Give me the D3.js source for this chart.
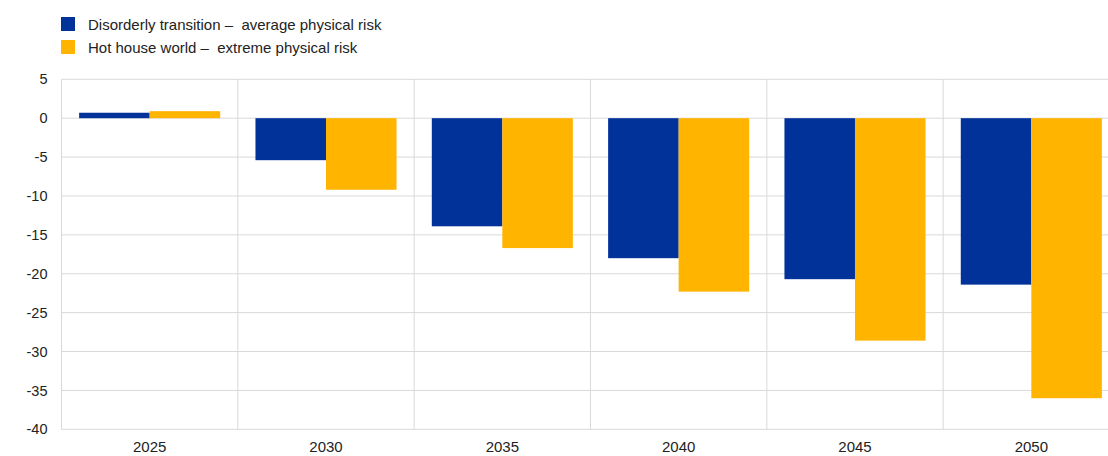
<!DOCTYPE html>
<html>
<head>
<meta charset="utf-8">
<script src="https://cdn.jsdelivr.net/npm/d3@7"></script>
<style>
  html, body { margin: 0; padding: 0; background: #fff; overflow: hidden; }
  svg { display: block; font-family: "Liberation Sans", Arial, sans-serif; }
</style>
</head>
<body>
<svg id="chart" width="1108" height="456"></svg>
<script>
const categories = ["2025", "2030", "2035", "2040", "2045", "2050"];
const seriesNames = ["Disorderly transition \u2013  average physical risk", "Hot house world \u2013  extreme physical risk"];
const disorderly = [0.7, -5.4, -13.9, -18.0, -20.7, -21.4];
const hotHouse = [0.9, -9.2, -16.7, -22.3, -28.6, -36.0];
const yTicks = [5, 0, -5, -10, -15, -20, -25, -30, -35, -40];
const colors = ["#003299", "#FFB400"];

const svg = d3.select("#chart");
const margin = { left: 61.5, top: 79.3, right: 0, bottom: 0 };
const plotW = 176.33 * 6;
const plotH = 429.3 - 79.3;

const g = svg.append("g").attr("transform", `translate(${margin.left},${margin.top})`);

const x0 = d3.scaleBand().domain(categories).range([0, plotW]).paddingInner(0).paddingOuter(0);
const bw = x0.bandwidth();
const x1 = d3.scaleBand().domain([0, 1]).range([bw * 0.1, bw * 0.9]).padding(0);
const y = d3.scaleLinear().domain([5, -40]).range([0, plotH]);

// horizontal gridlines
g.append("g").selectAll("line").data(yTicks).join("line")
  .attr("x1", 0).attr("x2", plotW)
  .attr("y1", d => y(d)).attr("y2", d => y(d))
  .attr("stroke", "#d9d9d9").attr("stroke-width", 1);

// vertical gridlines (category boundaries)
const bounds = categories.map(c => x0(c)).concat([plotW]);
g.append("g").selectAll("line").data(bounds).join("line")
  .attr("x1", d => d).attr("x2", d => d)
  .attr("y1", 0).attr("y2", plotH)
  .attr("stroke", "#d9d9d9").attr("stroke-width", 1);

// bars
const series = [disorderly, hotHouse];
series.forEach((vals, si) => {
  g.append("g").selectAll("rect").data(vals).join("rect")
    .attr("x", (d, i) => x0(categories[i]) + x1(si))
    .attr("width", x1.bandwidth())
    .attr("y", d => y(Math.max(0, d)))
    .attr("height", d => Math.abs(y(d) - y(0)))
    .attr("fill", colors[si]);
});

// y axis labels
const yAxis = d3.axisLeft(y).tickValues(yTicks).tickSize(0).tickPadding(14).tickFormat(d => String(d));
const ya = g.append("g").call(yAxis);
ya.select(".domain").remove();
ya.selectAll("text").attr("font-size", 14.5).attr("fill", "#222").attr("font-family", "'Liberation Sans', Arial, sans-serif");

// x axis labels
const xAxis = d3.axisBottom(x0).tickSize(0).tickPadding(12);
const xa = g.append("g").attr("transform", `translate(0,${plotH})`).call(xAxis);
xa.select(".domain").remove();
xa.selectAll("text").attr("font-size", 15).attr("fill", "#222").attr("font-family", "'Liberation Sans', Arial, sans-serif");

// legend
const legend = svg.append("g");
seriesNames.forEach((name, i) => {
  const ly = 17 + i * 23;
  legend.append("rect").attr("x", 61).attr("y", ly).attr("width", 14).attr("height", 14).attr("fill", colors[i]);
  legend.append("text").attr("x", 88).attr("y", ly + 12.5)
    .attr("font-size", 15).attr("fill", "#222")
    .style("white-space", "pre")
    .text(name);
});
</script>
</body>
</html>
